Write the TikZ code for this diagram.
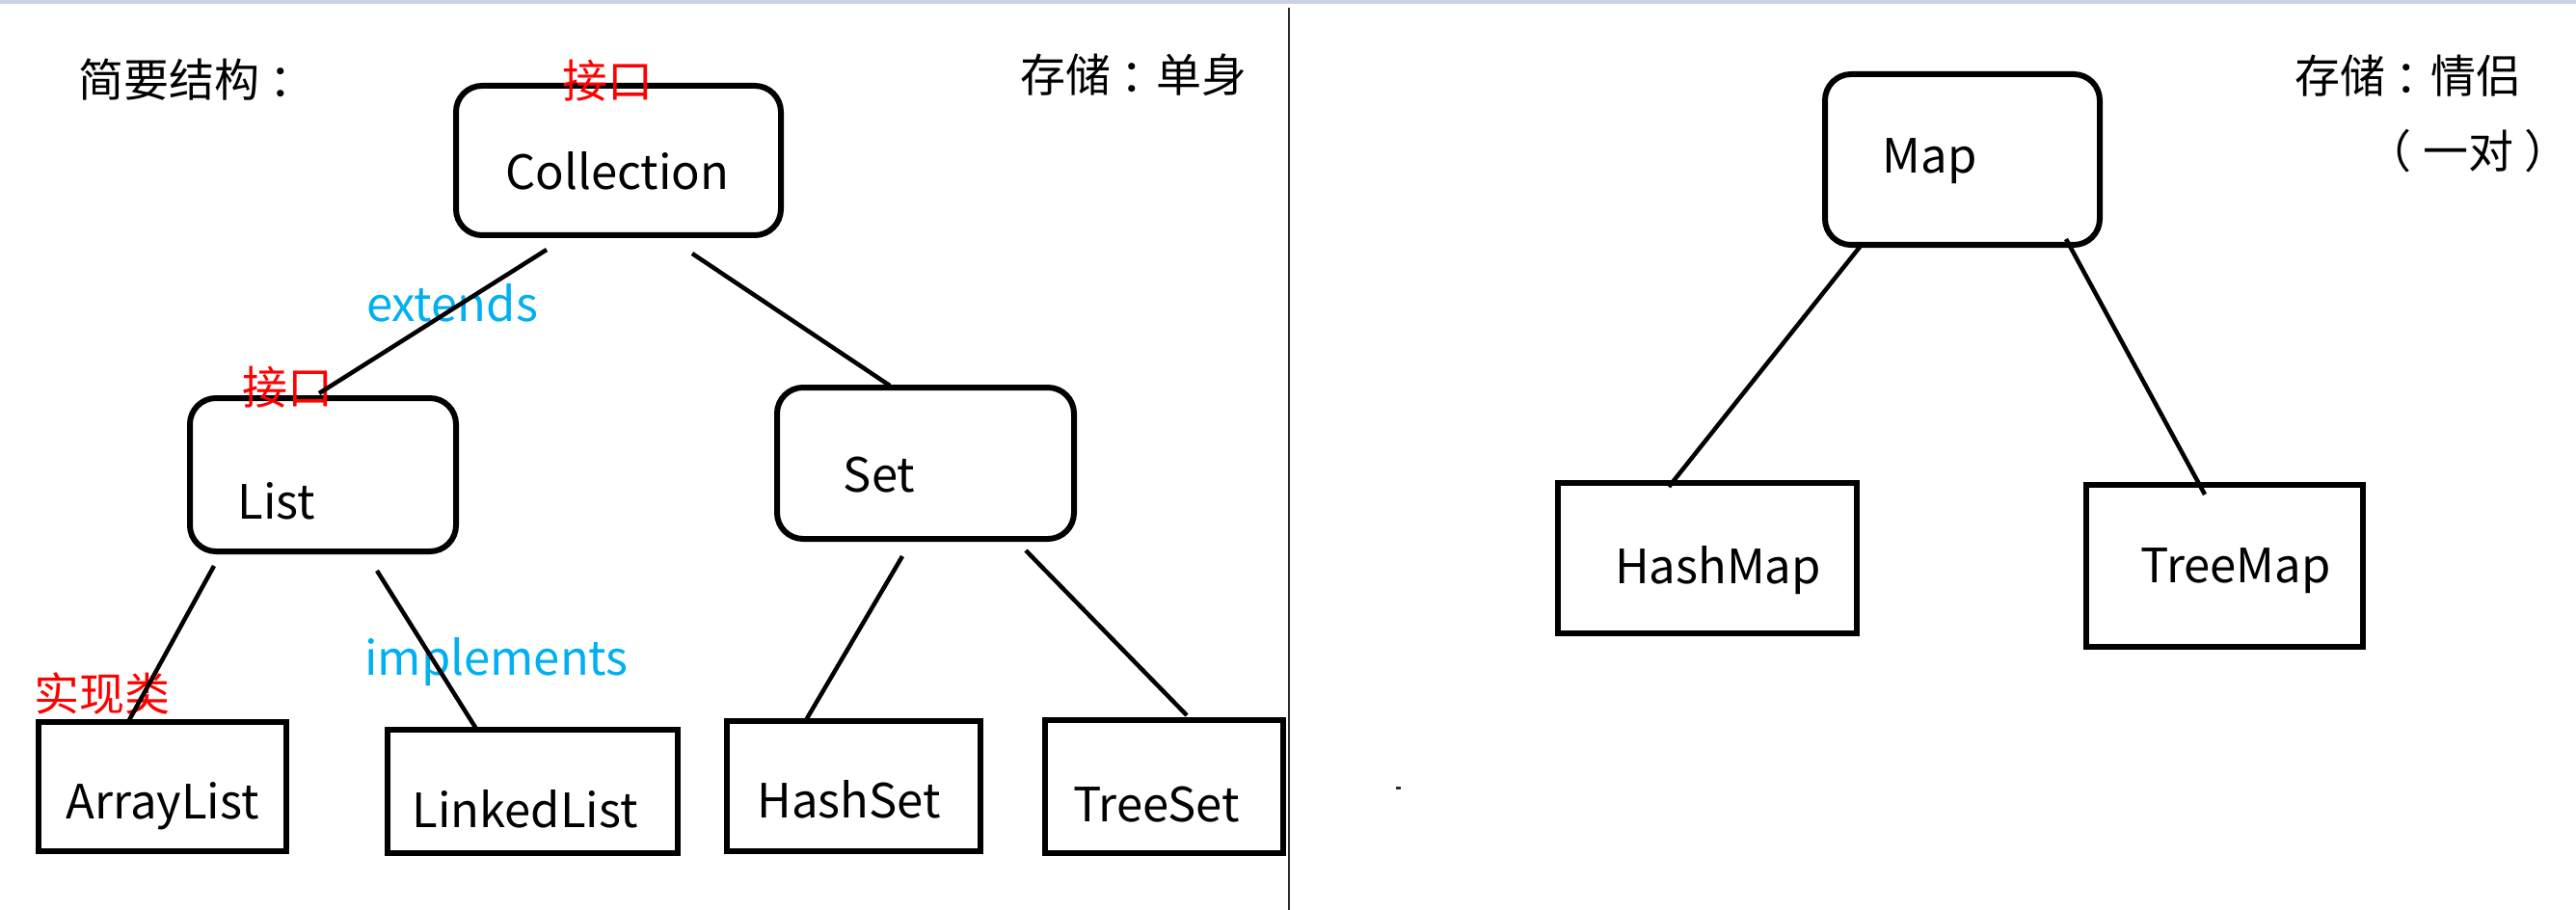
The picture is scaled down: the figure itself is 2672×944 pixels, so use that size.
\documentclass[tikz,border=0pt]{standalone}
\usepackage{fontspec}
\setmainfont{Noto Sans CJK SC}
\usetikzlibrary{calc}
\definecolor{note_red}{RGB}{255,0,0}
\definecolor{note_blue}{RGB}{0,176,240}
\definecolor{frame_top}{RGB}{200,211,228}
\definecolor{frame_rule}{RGB}{45,45,45}
% centred full-width colon and spaced brackets
\newcommand{\midcolon}{\kern0.22em：\kern-0.22em}
\tikzset{
  latin_font/.style = {font=\fontsize{49}{58}\selectfont},
  cjk_font/.style = {font=\fontsize{47}{56}\selectfont},
  box_line/.style = {draw, line width=6pt, inner sep=0pt, outer sep=0pt}
}
\tikzset{
  round_box/.style 2 args = {box_line, rounded corners=27pt, minimum width=#1, minimum height=#2},
  plain_box/.style 2 args = {box_line, minimum width=#1, minimum height=#2},
  name_text/.style = {latin_font, inner sep=0pt, anchor=base},
  kind_red/.style = {cjk_font, inner sep=0pt, text=note_red},
  kind_blue/.style = {latin_font, inner sep=0pt, anchor=base, text=note_blue},
  caption/.style = {cjk_font, inner sep=0pt},
  link/.style = {line width=4.5pt},
  divider/.style = {line width=2.5pt, frame_rule}
}
\begin{document}
\begin{tikzpicture}[x=1pt, y=-1pt]
        \useasboundingbox (0,0) rectangle (2672,944);

        % Frame
        \fill[frame_top] (0,0) rectangle (2672,4);
        \draw[divider] (1337,8) -- (1337,944);
        \fill[frame_rule] (1447.5,815.5) rectangle (1452.5,818.5);

        % Single storage
        \node[round_box={337pt}{155pt}] at (641.5,166.5) (coll) {};
        \node[round_box={276pt}{159pt}] at (335,492.5) (list) {};
        \node[round_box={308pt}{157pt}] at (960,480.5) (set) {};
        \node[plain_box={257pt}{134pt}] at (168.5,816) (array_list) {};
        \node[plain_box={301pt}{128pt}] at (552.5,821) (linked_list) {};
        \node[plain_box={263pt}{135pt}] at (885.5,815.5) (hash_set) {};
        \node[plain_box={247pt}{138pt}] at (1207.5,816) (tree_set) {};

        % Pair storage
        \node[round_box={285pt}{177pt}] at (2035.5,165.5) (map) {};
        \node[plain_box={310pt}{156pt}] at (1771,579) (hash_map) {};
        \node[plain_box={287pt}{168pt}] at (2307.5,587) (tree_map) {};

        % Names in the boxes
        \node[name_text] at ($(coll.center)+(-1,30.5)$) (coll_t) {Collection};
        \node[name_text] at ($(list.center)+(-48,45.5)$) (list_t) {List};
        \node[name_text] at ($(set.center)+(-48,29.5)$) (set_t) {Set};
        \node[name_text] at ($(array_list.center)+(0,33)$) (array_list_t) {ArrayList};
        \node[name_text] at ($(linked_list.center)+(-8,37)$) (linked_list_t) {LinkedList};
        \node[name_text] at ($(hash_set.center)+(-5,32.5)$) (hash_set_t) {HashSet};
        \node[name_text] at ($(tree_set.center)+(-8,36)$) (tree_set_t) {TreeSet};
        \node[name_text] at ($(map.center)+(-34,14.5)$) (map_t) {Map};
        \node[name_text] at ($(hash_map.center)+(11,26)$) (hash_map_t) {HashMap};
        \node[name_text] at ($(tree_map.center)+(11.5,17)$) (tree_map_t) {TreeMap};

        % Captions and notes
        \node[caption] at (199,83) (struct_c) {简要结构\midcolon};
        \node[caption] at (1176,78) (single_c) {存储\midcolon 单身};
        \node[caption] at (2498,79) (pair_c) {存储\midcolon 情侣};
        \node[caption] at (2560,157) (pair_c2) {（\kern12pt 一对\kern12pt ）};
        \node[kind_red] at (630,84) (coll_kind) {接口};
        \node[kind_red] at (298,402) (list_kind) {接口};
        \node[kind_red] at (106,720) (array_kind) {实现类};
        \node[kind_blue] at (469,333) (extends_l) {extends};
        \node[kind_blue] at (515,700) (implements_l) {implements};

        % Lines
        \draw[link] ($(coll.south west)+(94,15)$) -- ($(list.north west)+(134,-5)$);
        \draw[link] ($(coll.south west)+(245,19)$) -- ($(set.north west)+(117,-2)$);
        \draw[link] ($(list.south west)+(25,15)$) -- ($(array_list.north west)+(94,-2)$);
        \draw[link] ($(list.south west)+(194,20)$) -- ($(linked_list.north west)+(92,-1)$);
        \draw[link] ($(set.south west)+(130,18)$) -- ($(hash_set.north west)+(82,-1)$);
        \draw[link] ($(set.south west)+(258,12)$) -- ($(tree_set.north west)+(147,-5)$);
        \draw[link] ($(map.south west)+(37,1)$) -- ($(hash_map.north west)+(115,4)$);
        \draw[link] ($(map.south west)+(250,-6)$) -- ($(tree_map.north west)+(123,10)$);
\end{tikzpicture}
\end{document}
